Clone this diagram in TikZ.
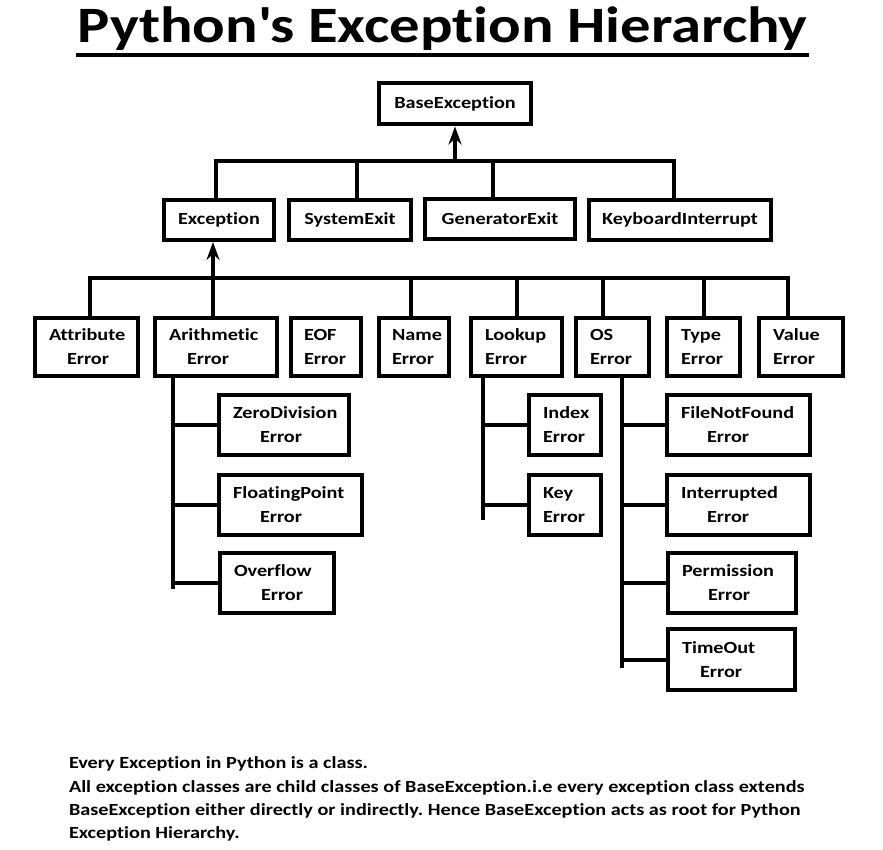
\documentclass[tikz,border=0pt]{standalone}
\usepackage{fontspec}
\setmainfont{Carlito}[FakeStretch=1.19, Ligatures={NoCommon}]
\usetikzlibrary{arrows.meta}
\usetikzlibrary{positioning}
\usetikzlibrary{calc}
\frenchspacing

\begin{document}
\begin{tikzpicture}[x=1pt,y=-1pt,line width=4pt]
        \tikzstyle{every node}=[font=\bfseries\fontsize{17}{24}\selectfont]
        \tikzstyle{box}=[draw, line width=4pt, inner sep=0pt, align=center, minimum height=58pt]
        \tikzstyle{lbox}=[box, align=left]
        \tikzstyle{subbox}=[lbox, minimum height=60pt]
        \tikzstyle{tip}=[-{Stealth[length=18pt,width=13pt,inset=6pt]}]
        \useasboundingbox (0,0) rectangle (883,850);
        % titel
        \node[anchor=base, inner sep=0pt, font=\bfseries\fontsize{51}{60}\selectfont] (titel) at (442.5,43) {Python\textquotesingle s Exception Hierarchy};
        \draw ([yshift=-12pt]titel.base west) -- ([yshift=-12pt]titel.base east);
        % top two levels
        \node[box, minimum width=152pt, minimum height=41pt] (base) at (455,104) {BaseException};
        \node[box, minimum width=110pt, minimum height=40pt] (exc) at (219,220) {Exception};
        \node[box, minimum width=122pt, minimum height=40pt] (sysexit) at (350,220) {SystemExit};
        \node[box, minimum width=150pt, minimum height=40pt] (genexit) at (500,219) {GeneratorExit};
        \node[box, minimum width=182pt, minimum height=40pt] (kbd) at (680,220) {KeyboardInterrupt};
        % children of Exception
        \node[lbox, minimum width=103pt, text width=75pt] (attr) at (86.5,347) {Attribute\\\hspace*{18pt}Error};
        \node[lbox, minimum width=122pt, text width=94pt] (arith) at (216,347) {Arithmetic\\\hspace*{18pt}Error};
        \node[lbox, minimum width=70pt, text width=44pt] (eof) at (326,347) {EOF\\Error};
        \node[lbox, minimum width=70pt, text width=44pt] (name) at (414,347) {Name\\Error};
        \node[lbox, minimum width=91pt, text width=63pt] (lookup) at (516.5,347) {Lookup\\Error};
        \node[lbox, minimum width=73pt, text width=45pt] (os) at (612.5,347) {OS\\Error};
        \node[lbox, minimum width=73pt, text width=45pt] (type) at (703.5,347) {Type\\Error};
        \node[lbox, minimum width=84pt, text width=56pt] (valerr) at (801,347) {Value\\Error};
        % third level
        \node[subbox, minimum width=130pt, text width=102pt] (zerodiv) at (284,425) {ZeroDivision\\\hspace*{27pt}Error};
        \node[subbox, minimum width=143pt, text width=115pt] (floatpt) at (290.5,505) {FloatingPoint\\\hspace*{27pt}Error};
        \node[subbox, minimum width=114pt, text width=86pt] (overflow) at (277,583) {Overflow\\\hspace*{27pt}Error};
        \node[subbox, minimum width=72pt, text width=44pt] (index) at (565,425) {Index\\Error};
        \node[subbox, minimum width=72pt, text width=44pt] (key) at (565,505) {Key\\Error};
        \node[subbox, minimum width=143pt, text width=115pt] (filenf) at (738.5,425) {FileNotFound\\\hspace*{26pt}Error};
        \node[subbox, minimum width=143pt, text width=115pt] (intr) at (738.5,505) {Interrupted\\\hspace*{26pt}Error};
        \node[subbox, minimum width=128pt, text width=100pt] (perm) at (732,583) {Permission\\\hspace*{26pt}Error};
        \node[subbox, minimum width=127pt, minimum height=61pt, text width=99pt] (timeout) at (731.5,659.5) {TimeOut\\\hspace*{18pt}Error};

        % connectors
        \coordinate (top) at (455,161);
        \coordinate (mid) at (213,278);
        \draw[tip] (top) -- (base);
        \draw ([xshift=-3pt]exc.north) |- (top) -| ([xshift=-6pt]kbd.north);
        \draw ([xshift=7pt]sysexit.north) -- ([xshift=7pt]sysexit.north |- top);
        \draw ([xshift=-7pt]genexit.north) -- ([xshift=-7pt]genexit.north |- top);
        \draw[tip] (mid) -- (mid |- exc.south);
        \draw ([xshift=3.5pt]attr.north) |- (mid) -| ([xshift=-13pt]valerr.north);
        \draw (mid |- arith.north) -- (mid);
        \draw ([xshift=-3pt]name.north) -- ([xshift=-3pt]name.north |- mid);
        \draw (lookup.north) -- (lookup.north |- mid);
        \draw ([xshift=-10pt]os.north) -- ([xshift=-10pt]os.north |- mid);
        \draw (type.north) -- (type.north |- mid);
        % spines
        \coordinate (aspine) at (173,589);
        \coordinate (lspine) at (483,520);
        \coordinate (ospine) at (622,668);
        \draw (aspine |- arith.south) -- (aspine);
        \draw (lspine |- lookup.south) -- (lspine);
        \draw (ospine |- os.south) -- (ospine);
        \foreach \k in {zerodiv,floatpt,overflow}
          \draw (aspine |- \k.west) -- (\k.west);
        \foreach \k in {index,key}
          \draw (lspine |- \k.west) -- (\k.west);
        \foreach \k in {filenf,intr,perm,timeout}
          \draw (ospine |- \k.west) -- (\k.west);

        \node[anchor=north west, inner sep=0pt, align=left, font=\bfseries\fontsize{17}{23.3}\selectfont] (note) at (67,755) {Every Exception in Python is a class.\\All exception classes are child classes of BaseException.i.e every exception class extends\\BaseException either directly or indirectly. Hence BaseException acts as root for Python\\Exception Hierarchy.};
\end{tikzpicture}
\end{document}
